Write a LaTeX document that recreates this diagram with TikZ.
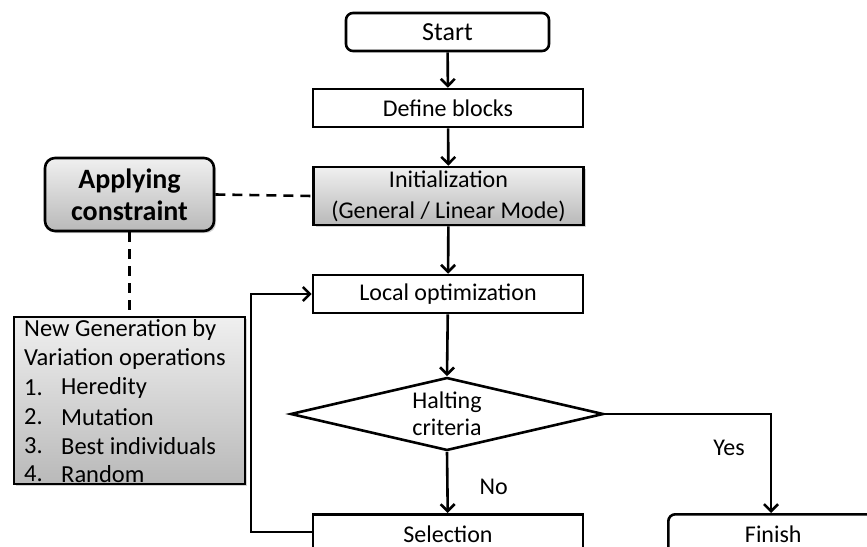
\documentclass[tikz,border=0pt]{standalone}
\usepackage{fontspec}
\setmainfont{Carlito}
\usetikzlibrary{arrows.meta,shapes.geometric,shadows}
\tikzset{
  txt/.style={font=\fontsize{24}{30}\selectfont},
  box/.style={draw=black, line width=2.6pt, fill=white, minimum width=270pt, minimum height=38pt, txt, align=center, inner sep=0pt},
  rbox/.style={box, rounded corners=7pt},
  gbox/.style={box, top color=gray!12, bottom color=gray!55, drop shadow={shadow xshift=2pt, shadow yshift=-2pt, opacity=0.35}},
  conn/.style={line width=2.6pt, -{Straight Barb[length=7pt,width=14pt,line width=2.6pt]}},
  dashline/.style={line width=2.6pt, dash pattern=on 10pt off 7pt},
  lbl/.style={txt, inner sep=0pt},
  item/.style={anchor=west, inner sep=0pt, font=\fontsize{24.5}{29}\selectfont}
}
\begin{document}
\begin{tikzpicture}[x=1pt,y=-1pt]
\useasboundingbox (0,0) rectangle (867,546);
\clip (0,0) rectangle (867,546);
\node[rbox, minimum width=203pt, font=\fontsize{26}{30}\selectfont] (start) at (447.5,32) {Start};
\node[box] (define) at (448,108) {Define blocks};
\node[gbox, minimum height=58pt, font=\fontsize{24}{31}\selectfont] (init) at (448.5,196) {Initialization\\(General / Linear Mode)};
\node[gbox, rounded corners=10pt, minimum width=169pt, minimum height=73pt, font=\fontsize{28}{32}\selectfont\bfseries] (apply) at (129.5,194.5) {Applying\\constraint};
\node[gbox, minimum width=231pt, minimum height=167pt, inner sep=0pt] (newgen) at (129.5,400.5) {};
\node[box] (local) at (448,294) {Local optimization};
\node[diamond, draw=black, line width=2.6pt, fill=white, minimum width=313pt, minimum height=73pt, inner sep=0pt, aspect=4.3] (halt) at (447,414) {};
\node[lbl, align=center, font=\fontsize{24}{27}\selectfont] (halttxt) at (447,414) {Halting\\criteria};
\node[box, minimum height=40pt, anchor=north] (select) at (448,513) {Selection};
\node[rbox, minimum width=210pt, minimum height=40pt, anchor=north west] (finish) at (667,513) {Finish};
\node[item] (g1) at (24,330) {New Generation by};
\node[item] (g2) at (24,359) {Variation operations};
\node[item] (n1) at (24,388) {1.};
\node[item] (g3) at (61,388) {Heredity};
\node[item] (n2) at (24,417) {2.};
\node[item] (g4) at (61,417) {Mutation};
\node[item] (n3) at (24,446) {3.};
\node[item] (g5) at (61,446) {Best individuals};
\node[item] (n4) at (24,474) {4.};
\node[item] (g6) at (61,474) {Random};
\draw[conn] (start) -- (define);
\draw[conn] (define) -- (init);
\draw[conn] (init) -- (local);
\draw[conn] (local) -- (halt.north);
\draw[conn] (halt.south) -- node[lbl, anchor=west, pos=0.58, xshift=31pt] (no) {No} (select);
\draw[conn] (halt.east) -| node[lbl, pos=0.67, anchor=east, xshift=-25pt] (yes) {Yes} (finish.north -| 771,0);
\draw[conn] (select.west |- 0,532) -- (251,532) |- (local.west);
\draw[dashline] (apply.east) -- (init.west);
\draw[dashline] (apply.south) -- (newgen.north);
\end{tikzpicture}
\end{document}
